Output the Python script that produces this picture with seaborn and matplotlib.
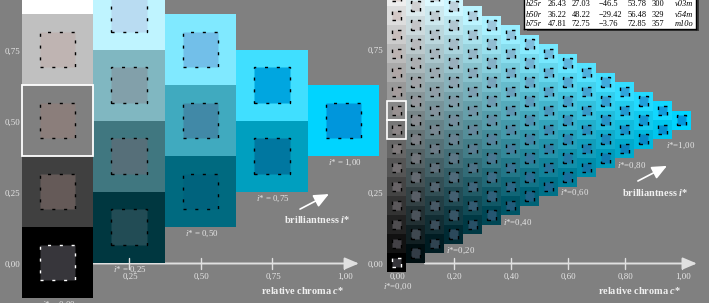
import numpy as np
import matplotlib.pyplot as plt
import seaborn as sns
from matplotlib.patches import Rectangle
from matplotlib.colors import to_rgb, to_hex

# ---- left chart: 5-step colour triangle (columns = relative chroma c*) ----
left_cstar = [0.00, 0.25, 0.50, 0.75, 1.00]
left_tstar = [
    [1.00, 0.75, 0.50, 0.25, 0.00],
    [0.875, 0.625, 0.375, 0.125],
    [0.75, 0.50, 0.25],
    [0.625, 0.375],
    [0.50],
]
left_cell_colors = [
    ["#ffffff", "#c0c0c0", "#808080", "#404040", "#000000"],
    ["#bff4ff", "#80b7c1", "#407780", "#003740"],
    ["#80e9ff", "#40aabf", "#006a80"],
    ["#40dfff", "#009fbf"],
    ["#00d4ff"],
]
left_inner_colors = [
    ["#ebe1de", "#bfb4b2", "#8b7e7b", "#655a58", "#37363b"],
    ["#b9dcf2", "#82a0aa", "#566f79", "#224c55"],
    ["#72bfe9", "#4189a7", "#00637d"],
    ["#00a6e0", "#0077a0"],
    ["#0096dc"],
]
left_istar_labels = ["0,00", "0,25", "0,50", "0,75", "1,00"]
left_xticks = [0.25, 0.50, 0.75, 1.00]
left_xticklabels = ["0,25", "0,50", "0,75", "1,00"]
left_yticks = [0.75, 0.50, 0.25, 0.00]
left_yticklabels = ["0,75", "0,50", "0,25", "0,00"]

# ---- right chart: 16-step triangle mixed from anchor colours ----
right_steps = 16
hue_color, white_color, black_color = "#00d4ff", "#ffffff", "#000000"
inner_hue, inner_white, inner_black = "#0096dc", "#ece0dc", "#37363b"
right_xticks = [0.20, 0.40, 0.60, 0.80, 1.00]
right_xticklabels = ["0,00", "0,20", "0,40", "0,60", "0,80", "1,00"]
right_yticks = [0.75, 0.25, 0.00]
right_yticklabels = ["0,75", "0,25", "0,00"]
right_istar = [0.0, 0.2, 0.4, 0.6, 0.8, 1.0]
right_istar_labels = ["0,00", "0,20", "0,40", "0,60", "0,80", "1,00"]

# ---- table (top right) ----
tab_names = ["b25r", "b50r", "b75r"]
tab_a = ["26.43", "36.22", "47.81"]
tab_b = ["27.03", "48.22", "72.75"]
tab_c = ["\u221246.5", "\u221229.42", "\u22123.76"]
tab_d = ["53.78", "56.48", "72.85"]
tab_h = ["300", "329", "357"]
tab_codes = ["v03m", "v54m", "m10o"]

sns.set_theme(style="white")
plt.rcParams["font.family"] = ["Liberation Serif", "DejaVu Serif"]
plt.rcParams["mathtext.fontset"] = "custom"
plt.rcParams["mathtext.rm"] = "Liberation Serif"
plt.rcParams["mathtext.it"] = "Liberation Serif:italic"
plt.rcParams["mathtext.bf"] = "Liberation Serif:bold"
plt.rcParams["mathtext.bfit"] = "Liberation Serif:italic:bold"
plt.rcParams["lines.scale_dashes"] = False

BG = "#808080"
TXT = "#e6e6e6"
LINE = "#e0e0e0"
FS = 6.4
W, H = 709, 303
fig = plt.figure(figsize=(W / 100, H / 100), dpi=100, facecolor=BG)


def chart_axes(c0_px, t0_px, ppu_x, ppu_y):
    ax = fig.add_axes([0, 0, 1, 1])
    ax.set_xlim(-c0_px / ppu_x, (W - c0_px) / ppu_x)
    ax.set_ylim((t0_px - H) / ppu_y, t0_px / ppu_y)
    ax.axis("off")
    ax.patch.set_alpha(0)
    return ax


def axis_arrow(ax, c_start, c_end, base_t, ticks, tick_h):
    ax.annotate("", xy=(c_end, base_t), xytext=(c_start, base_t), zorder=1,
                arrowprops=dict(arrowstyle="-|>,head_length=0.85,head_width=0.36",
                                mutation_scale=10, color=LINE, lw=1.4,
                                shrinkA=0, shrinkB=0))
    for c in ticks:
        ax.plot([c, c], [base_t - tick_h, base_t + tick_h], color=LINE, lw=1.0, zorder=5)


def mix(c, w, hue, wht, blk):
    rgb = c * np.array(to_rgb(hue)) + w * np.array(to_rgb(wht)) + (1 - c - w) * np.array(to_rgb(blk))
    return to_hex(np.clip(rgb, 0, 1))


# ================= left chart =================
axL = chart_axes(57.5, 262.5, 286, 284)
hs = 0.125
for c, ts, cols, inns in zip(left_cstar, left_tstar, left_cell_colors, left_inner_colors):
    for t, fc, ic in zip(ts, cols, inns):
        axL.add_patch(Rectangle((c - hs, t - hs), 2 * hs, 2 * hs, fc=fc, ec="none", zorder=2))
        dash = "white" if fc == "#000000" else "black"
        axL.add_patch(Rectangle((c - hs / 2, t - hs / 2), hs, hs, fc=ic, ec=dash, lw=1.0,
                                ls=(0, (2.2, 6.3)), zorder=3))
axL.add_patch(Rectangle((0 - hs, 0.5 - hs), 2 * hs, 2 * hs, fill=False, ec="white", lw=1.3, zorder=4))

axis_arrow(axL, 0.125, 1.054, -1 / 284, left_xticks, 0.018)
for c, lab in zip(left_xticks, left_xticklabels):
    axL.text(c + 0.004, -0.051, lab, color=TXT, fontsize=FS, ha="center", va="center")
for t, lab in zip(left_yticks, left_yticklabels):
    axL.text(-0.157, t - 0.008, lab, color=TXT, fontsize=FS, ha="center", va="center")
for c, ts, lab in zip(left_cstar, left_tstar, left_istar_labels):
    bottom = min(ts) - hs
    axL.text(c + 0.004, bottom - 0.024, "$i$* = " + lab, color=TXT, fontsize=FS,
             ha="center", va="center", zorder=6)
axL.text(0.855, -0.100, r"relative chroma $\mathbfit{c}$*", color="#f0f0f0", fontsize=7.4,
         fontweight="bold", ha="center", va="center")
axL.text(0.907, 0.150, r"brilliantness $\mathbfit{i}$*", color="#f0f0f0", fontsize=7.4,
         fontweight="bold", ha="center", va="center")
axL.annotate("", xy=(0.949, 0.241), xytext=(0.848, 0.188),
             arrowprops=dict(arrowstyle="-|>,head_length=0.9,head_width=0.4", mutation_scale=10,
                             color="white", lw=1.2, shrinkA=0, shrinkB=0))

# ================= right chart =================
axR = chart_axes(396.5, 262.5, 285, 285)
step = 1 / (right_steps - 1)
for j in range(right_steps):
    c = j * step
    for k in range(right_steps - j):
        w = k * step
        t = c / 2 + w
        fc = mix(c, w, hue_color, white_color, black_color)
        ic = mix(c, w, inner_hue, inner_white, inner_black)
        axR.add_patch(Rectangle((c - step / 2, t - step / 2), step, step, fc=fc, ec="none", zorder=2))
        dash = "white" if (j == 0 and k == 0) else "black"
        axR.add_patch(Rectangle((c - step / 4, t - step / 4), step / 2, step / 2, fc=ic, ec=dash,
                                lw=1.0, ls=(0, (2.5, 4.0)), zorder=3))
for k in (7, 8):
    axR.add_patch(Rectangle((-step / 2, k * step - step / 2), step, step, fill=False,
                            ec="white", lw=1.2, zorder=4))

axis_arrow(axR, 0.1, 1.054, -1 / 285, right_xticks, 0.018)
for c, lab in zip([0.0] + right_xticks, right_xticklabels):
    axR.text(c + 0.004, -0.051, lab, color=TXT, fontsize=FS, ha="center", va="center")
for t, lab in zip(right_yticks, right_yticklabels):
    axR.text(-0.075, t - 0.008, lab, color=TXT, fontsize=FS, ha="center", va="center")
label_shift = [(0.005, 0.052), (0.026, 0.024), (0.026, 0.028), (0.026, 0.023), (0.026, 0.028), (-0.005, 0.058)]
for v, lab, (dx, dy) in zip(right_istar, right_istar_labels, label_shift):
    bottom = v / 2 - step / 2
    axR.text(v + dx, bottom - dy, "$i$*=" + lab, color=TXT, fontsize=FS,
             ha="center", va="center", zorder=6)
axR.text(0.854, -0.100, r"relative chroma $\mathbfit{c}$*", color="#f0f0f0", fontsize=7.4,
         fontweight="bold", ha="center", va="center")
axR.text(0.907, 0.247, r"brilliantness $\mathbfit{i}$*", color="#f0f0f0", fontsize=7.4,
         fontweight="bold", ha="center", va="center")
axR.annotate("", xy=(0.949, 0.339), xytext=(0.847, 0.286),
             arrowprops=dict(arrowstyle="-|>,head_length=0.9,head_width=0.4", mutation_scale=10,
                             color="white", lw=1.2, shrinkA=0, shrinkB=0))

# ================= table =================
shadow = Rectangle((527 / W, 1 - 31 / H), 172 / W, 0.2, transform=fig.transFigure,
                   fc="#3a3a3a", ec="none", zorder=8)
fig.patches.append(shadow)
axT = fig.add_axes([524 / W, 1 - 29 / H, 172 / W, 0.2], zorder=9)
axT.set_facecolor("white")
axT.set_xticks([])
axT.set_yticks([])
for sp in axT.spines.values():
    sp.set_color("black")
    sp.set_linewidth(1.0)
cols = [(526, tab_names, "italic"), (548, tab_a, "normal"), (572, tab_b, "normal"),
        (599, tab_c, "normal"), (628, tab_d, "normal"), (652, tab_h, "normal"),
        (675, tab_codes, "italic")]
row_y = [4.5, 14.8, 24.5]
for x, vals, style in cols:
    for y, v in zip(row_y, vals):
        fig.text(x / W, 1 - y / H, v, color="black", fontsize=6.0, style=style,
                 ha="left", va="center", zorder=10)

fig.savefig("out.png", dpi=100, facecolor=BG)
